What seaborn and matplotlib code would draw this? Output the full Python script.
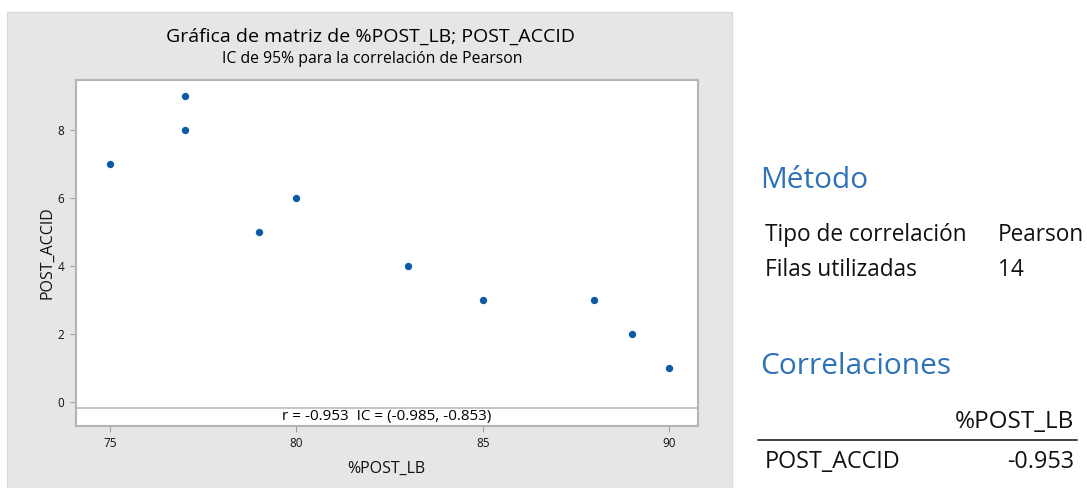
import matplotlib
matplotlib.use("Agg")
import matplotlib.pyplot as plt
from matplotlib.patches import Rectangle
import seaborn as sns
import pandas as pd

# Observed values
post_lb = [75, 77, 77, 79, 80, 83, 85, 88, 89, 90]
post_accid = [7, 9, 8, 5, 6, 4, 3, 3, 2, 1]
r_value = -0.953
ci_low, ci_high = -0.985, -0.853
rows_used = 14
x_ticks = [75, 80, 85, 90]
y_ticks = [0, 2, 4, 6, 8]

df = pd.DataFrame({"%POST_LB": post_lb, "POST_ACCID": post_accid})

sns.set_theme(style="white")
plt.rcParams["font.family"] = ["Open Sans", "DejaVu Sans"]

fig = plt.figure(figsize=(10.87, 4.88), dpi=100)
W, H = 1087, 488

# grey panel behind the chart
fig.patches.append(Rectangle((7 / W, 0), (732 - 7) / W, (488 - 12) / H,
                             transform=fig.transFigure, facecolor="#e6e6e6",
                             edgecolor="#d8d8d8", lw=0.8, zorder=-5))

ax = fig.add_axes([75.5 / W, 1 - 426 / H, (698 - 75.5) / W, (426 - 79.5) / H])
ax.set_zorder(2)
ax.set_facecolor("white")
sns.scatterplot(data=df, x="%POST_LB", y="POST_ACCID", ax=ax, s=28,
                color="#0f5aa8", edgecolor="#0f5aa8", linewidth=0, zorder=3)

ax.set_xlim(74.07, 90.78)
ax.set_ylim(-0.706, 9.485)
ax.set_xticks(x_ticks)
ax.set_yticks(y_ticks)
ax.tick_params(axis="both", which="both", direction="out", length=4, width=0.8,
               color="#a0a0a0", labelsize=8.5, labelcolor="#111111", pad=4,
               bottom=True, left=True)
for sp in ax.spines.values():
    sp.set_color("#b4b4b4")
    sp.set_linewidth(1.5)

ax.set_xlabel("%POST_LB", fontsize=11.5, color="#111111", labelpad=8)
ax.set_ylabel("POST_ACCID", fontsize=11.5, color="#111111", labelpad=2)

# correlation strip at the bottom of the plot area
ax.axhline(-0.176, color="#c0c0c0", lw=1.3, zorder=2)
ax.text((ax.get_xlim()[0] + ax.get_xlim()[1]) / 2, -0.44,
        f"r = {r_value:.3f}  IC = ({ci_low:.3f}, {ci_high:.3f})",
        ha="center", va="center", fontsize=11, color="#000000")

fig.text(370 / W, 1 - 37 / H, "Gráfica de matriz de %POST_LB; POST_ACCID",
         ha="center", va="center", fontsize=14, color="#000000")
fig.text(372 / W, 1 - 59 / H, "IC de 95% para la correlación de Pearson",
         ha="center", va="center", fontsize=11.3, color="#000000")

# summary tables on the right
blue = "#2f72b8"
dark = "#111111"
fig.text(760 / W, 1 - 180 / H, "Método", ha="left", va="center",
         fontsize=21.5, color=blue)
fig.text(765 / W, 1 - 235 / H, "Tipo de correlación", ha="left", va="center",
         fontsize=16.3, color=dark)
fig.text(998 / W, 1 - 235 / H, "Pearson", ha="left", va="center",
         fontsize=16.3, color=dark)
fig.text(765 / W, 1 - 270 / H, "Filas utilizadas", ha="left", va="center",
         fontsize=16.3, color=dark)
fig.text(998 / W, 1 - 270 / H, str(rows_used), ha="left", va="center",
         fontsize=16.3, color=dark)
fig.text(760 / W, 1 - 366 / H, "Correlaciones", ha="left", va="center",
         fontsize=21.5, color=blue)
fig.text(1074 / W, 1 - 422 / H, "%POST_LB", ha="right", va="center",
         fontsize=17.5, color=dark)
fig.add_artist(plt.Line2D([758 / W, 1077 / W], [1 - 440 / H, 1 - 440 / H],
                          transform=fig.transFigure, color="#333333", lw=1.3))
fig.text(765 / W, 1 - 462 / H, "POST_ACCID", ha="left", va="center",
         fontsize=16.8, color=dark)
fig.text(1074 / W, 1 - 462 / H, f"{r_value:.3f}", ha="right", va="center",
         fontsize=16.8, color=dark)

fig.savefig("out.png", dpi=100, facecolor="white")
